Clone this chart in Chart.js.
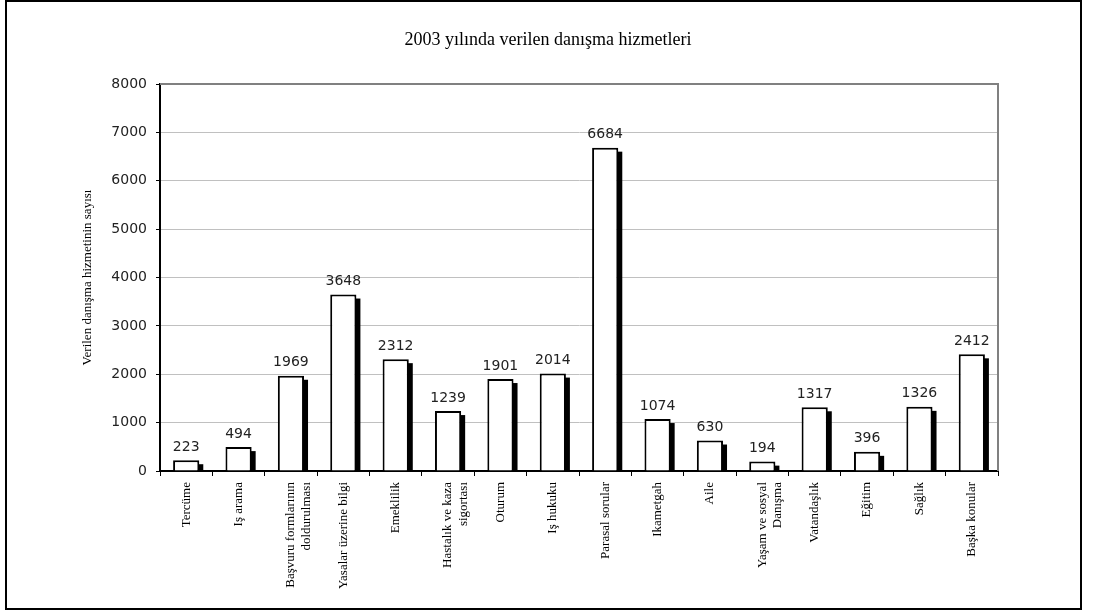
<!DOCTYPE html>
<html>
<head>
<meta charset="utf-8">
<script src="https://cdn.jsdelivr.net/npm/chart.js@4"></script>
<style>
    body { margin: 0; background: #fff; }
    #wrap { position: absolute; left: 0; top: 0; width: 1096px; height: 610px; }
    #frame { position: absolute; left: 5px; top: 0; width: 1073px; height: 606px; border: 2px solid #000; }
</style>
</head>
<body>
<div id="wrap">
    <canvas id="hizmetChart" width="1096" height="610"></canvas>
    <div id="frame"></div>
</div>
<script>
// veriler
const baslik = "2003 yılında verilen danışma hizmetleri";
const kategoriler = [
    "Tercüme", "Iş arama", ["Başvuru formlarının", "doldurulması"], "Yasalar üzerine bilgi",
    "Emeklilik", ["Hastalık ve kaza", "sigortası"], "Oturum", "Iş hukuku", "Parasal sorular",
    "Ikametgah", "Aile", ["Yaşam ve sosyal", "Danışma"], "Vatandaşlık", "Eğitim", "Sağlık", "Başka konular"
];
const hizmetSayisi = [223, 494, 1969, 3648, 2312, 1239, 1901, 2014, 6684, 1074, 630, 194, 1317, 396, 1326, 2412];
const yTicks = [0, 1000, 2000, 3000, 4000, 5000, 6000, 7000, 8000];

// bar shadow + value labels + gray plot border + title centred on the page
const barExtras = {
    id: "barExtras",
    beforeDatasetsDraw(chart) {
        const ctx = chart.ctx;
        const meta = chart.getDatasetMeta(0);
        const area = chart.chartArea;
        ctx.save();
        ctx.fillStyle = "#000";
        meta.data.forEach((bar) => {
            const left = bar.x + bar.width / 2 - 1;
            const top = bar.y + 4;
            ctx.fillRect(left, top, 5, area.bottom - top);
        });
        ctx.restore();
    },
    afterDatasetsDraw(chart) {
        const ctx = chart.ctx;
        const meta = chart.getDatasetMeta(0);
        const area = chart.chartArea;
        ctx.save();
        ctx.font = "14px 'DejaVu Sans'";
        ctx.fillStyle = "#222";
        ctx.textAlign = "center";
        ctx.textBaseline = "bottom";
        meta.data.forEach((bar, i) => {
            ctx.fillText(String(hizmetSayisi[i]), bar.x, bar.y - 6);
        });
        ctx.strokeStyle = "#808080";
        ctx.lineWidth = 2;
        ctx.beginPath();
        ctx.moveTo(area.left, area.top);
        ctx.lineTo(area.right, area.top);
        ctx.lineTo(area.right, area.bottom);
        ctx.stroke();

        ctx.font = "18px 'Liberation Serif'";
        ctx.fillStyle = "#000";
        ctx.textBaseline = "middle";
        ctx.fillText(baslik, chart.width / 2, 40);
        ctx.restore();
    }
};

new Chart(document.getElementById("hizmetChart"), {
    type: "bar",
    data: {
        labels: kategoriler,
        datasets: [{
            data: hizmetSayisi,
            backgroundColor: "#fff",
            borderColor: "#000",
            borderWidth: 2,
            borderSkipped: "bottom",
            barPercentage: 0.5,
            categoryPercentage: 1.0,
        }]
    },
    options: {
        responsive: false,
        animation: false,
        layout: { padding: { left: 80, right: 98, top: 84, bottom: 0 } },
        plugins: {
            legend: { display: false },
            tooltip: { enabled: false },
            title: { display: false },
        },
        scales: {
            y: {
                min: 0,
                max: 8000,
                afterFit: (s) => { s.width = 80; },
                afterBuildTicks: (s) => { s.ticks = yTicks.map((v) => ({ value: v })); },
                ticks: {
                    color: "#222",
                    font: { family: "'DejaVu Sans'", size: 14 },
                    padding: 9,
                    callback: (v) => String(v),
                },
                grid: { color: "#c0c0c0", tickColor: "#000", tickLength: 4 },
                border: { color: "#000", width: 2 },
                title: {
                    display: true,
                    text: "Verilen danışma hizmetinin sayısı",
                    color: "#000",
                    font: { family: "'Liberation Serif'", size: 13 },
                    padding: { top: 0, bottom: 4 },
                },
            },
            x: {
                afterFit: (s) => { s.height = 139; },
                ticks: {
                    color: "#000",
                    font: { family: "'Liberation Serif'", size: 13 },
                    maxRotation: 90,
                    minRotation: 90,
                    autoSkip: false,
                    padding: 6,
                },
                grid: { drawOnChartArea: false, tickColor: "#000", tickLength: 5, offset: true },
                border: { color: "#000", width: 2 },
            },
        },
    },
    plugins: [barExtras],
});
</script>
</body>
</html>
